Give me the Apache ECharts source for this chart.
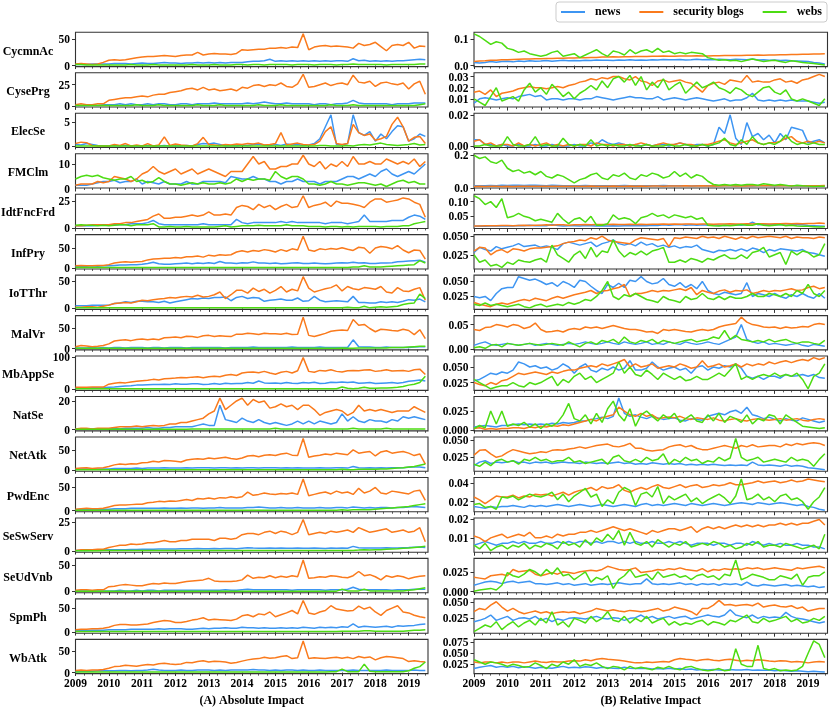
<!DOCTYPE html>
<html><head><meta charset="utf-8">
<script src="https://cdn.jsdelivr.net/npm/echarts@6/dist/echarts.min.js"></script>
<style>html,body{margin:0;padding:0;background:#fff}#wrap{position:relative;width:830px;height:709px}#c{width:830px;height:709px}
.yt{position:absolute;font:bold 11.5px "Liberation Serif","Times New Roman",serif;line-height:14px;color:#000;white-space:nowrap;text-align:right}</style>
</head><body><div id="wrap"><div id="c"></div></div>
<script>
// ---------- categories / labels ----------
const ROWS = ['CycmnAc','CysePrg','ElecSe','FMClm','IdtFncFrd','InfPry','IoTThr','MalVr','MbAppSe','NatSe','NetAtk','PwdEnc','SeSwServ','SeUdVnb','SpmPh','WbAtk'];
const SERIES_NAMES = ['news','security blogs','webs'];
const YEAR_TICKS = ['2009','2010','2011','2012','2013','2014','2015','2016','2017','2018','2019'];
const A_TICKS = [['0','50'],['0','25'],['0','5'],['0','10'],['0','25'],['0','50'],['0','50'],['0','50'],['0','100'],['0','20'],['0','50'],['0','50'],['0','25'],['0','50'],['0','50'],['0','50']];
const B_TICKS = [['0.0','0.1'],['0.01','0.02','0.03'],['0.00','0.02'],['0.0','0.2'],['0.05','0.10'],['0.025','0.050'],['0.025','0.050'],['0.00','0.05'],['0.025','0.050'],['0.000','0.025'],['0.025','0.050'],['0.02','0.04'],['0.01','0.02'],['0.000','0.025'],['0.025','0.050'],['0.025','0.050','0.075']];
const PANEL_TITLES = ['(A) Absolute Impact','(B) Relative Impact'];
// values every two months, Jan 2009 ... Jul 2019 (64 points)

// ---------- (A) absolute impact ----------
const A_CycmnAc_news = [2,2,2,3,3,3, 3,4,4,4,3,4, 5,4,4,5,6,5, 5,4,5,5,6,5, 6,5,6,5,6,6, 6,7,8,8,9,12, 8,9,8,9,8,9, 8,9,8,9,8,9, 9,8,13,9,10,8, 9,8,9,8,9,9, 10,11,12,11];
const A_CycmnAc_sec = [3,4,3,2,3,6, 10,11,10,11,13,15, 16,17,17,18,19,18, 17,19,20,20,25,20, 22,23,22,22,21,23, 30,29,30,31,31,33, 33,34,33,35,34,60, 30,35,37,38,36,37, 36,35,33,42,38,40, 44,36,28,38,40,38, 44,33,37,36];
const A_CycmnAc_web = [2,2,1,1,1,1, 1,1,1,1,2,1, 1,1,2,1,1,1, 1,1,1,2,1,1, 1,2,1,1,1,2, 2,1,2,2,1,2, 2,2,2,1,2,2, 2,1,2,2,2,1, 2,2,3,2,2,2, 2,2,1,2,2,2, 2,2,3,3];
const A_CysePrg_news = [1,1,1,2,1,2, 2,2,3,2,3,2, 2,3,2,3,3,2, 2,3,3,2,3,3, 3,4,3,3,3,3, 3,4,3,4,5,4, 3,3,4,3,3,3, 3,2,3,3,2,3, 3,4,7,4,3,3, 3,3,3,2,3,3, 3,4,4,4];
const A_CysePrg_sec = [2,3,2,2,3,3, 7,8,9,10,10,11, 12,11,13,14,14,16, 17,18,20,21,19,22, 19,20,18,19,20,18, 22,21,24,25,23,25, 24,27,23,22,26,37, 22,23,25,27,24,26, 27,25,36,28,27,29, 23,27,28,26,25,27, 20,26,29,14];
const A_CysePrg_web = [1,1,1,1,1,1, 1,1,1,1,1,2, 1,1,1,2,1,1, 1,1,1,1,2,1, 1,1,2,1,1,1, 1,1,1,2,1,1, 1,2,1,1,1,1, 1,1,1,1,2,1, 1,1,2,1,1,1, 1,1,1,1,1,1, 1,1,2,3];
const A_ElecSe_news = [0.3,0.2,0.5,0.3,0.1,0, 0,0.1,0,0.1,0,0, 0,0.1,0,0,0.1,0, 0,0,0.1,0,0.3,0.5, 0.4,0.6,0.3,0,0.1,0, 0.2,0.1,0.3,0.4,0.2,0.1, 0.3,0.1,0.4,0.2,0.3,0.1, 0.2,0.5,1.5,4,6.5,0.3, 0.2,0.5,6.5,2.8,2.2,3, 1,2.5,1.5,3,4.2,4, 1,1.5,2.5,2];
const A_ElecSe_sec = [0.5,0.8,0.7,0.1,0,0, 0,0.3,0.1,0.5,0,0.2, 0,0.5,0,0.2,1.9,0.1, 0.4,0.2,0.1,0,0.5,1.8, 0.3,0.2,0.1,0.3,0.2,0.4, 0.3,0.5,0.4,0.6,0.2,0.3, 0.5,2.8,0.2,0.4,0.6,0.3, 0.2,0.3,1,3,4,0.5, 0.3,0.5,4.5,2.8,2.2,2.5, 1.2,1.5,2,4.5,6,4, 1,1.8,2,0.5];
const A_ElecSe_web = [0,0,0,0,0,0, 0,0,0,0,0,0, 0,0,0,0,0,0, 0,0,0,0,0,0, 0,0,0,0,0,0, 0,0,0,0,0,0, 0,0,0,0,0,0, 0,0,0.1,0.1,0,0, 0,0.1,0,0.2,0.3,0.2, 0.4,0.6,0.3,0.2,0.1,0.2, 0.3,0.5,0.2,0.3];
const A_FMClm_news = [1.5,1.5,1.5,2,2.5,3, 3,3.5,2.5,3,3,4, 2,3,2.5,2,3,2, 2,2,3,2,2,3, 3,3,3,2.5,5,4.5, 4,4,5,4,4,3, 3,2,3,3,4,3, 3,3,2,3,3,3, 4,5,5,4,5,6, 5,7,8,6,5,6, 7,6,8,10];
const A_FMClm_sec = [1.5,2,2,2,3,2.5, 3,5,4.5,4,3,4, 6,7,9,7,6,7, 8,6,7,8,6,7, 8,7,6,5,7,7, 7,10,13,10,11,8, 8,9,9,10,10,13.5, 10,9,11,8,10,9, 11,9,13,10,10,11, 10,10,12,11,10,11, 10,12,9,11];
const A_FMClm_web = [4,5,5.5,5,5.5,4.5, 4,3.5,4,4,5,3, 3.5,2.5,3,4.5,3,2, 2,1.5,2,2.5,2,2.5, 2,2,2.5,2,2.5,4, 3,4,3.5,4,4,3.5, 7,5,4,5,5,4, 2,2,1.5,2,3,2, 2,1.5,2,2.5,2.5,2, 1.5,2,1,2,3,3.5, 2.5,3,2,2];
const A_IdtFncFrd_news = [2,2,2,2,2.5,3, 3,3,3,3,4,4, 4,5,7,4,3,3, 3,3,3,3,3,4, 3,3,3,3,3,8, 5,4,5,5,5,5, 5,6,5,6,5,5, 5,5,5,4,5,5, 5,4,5,6,12,6, 6,6,6,7,7,7, 10,12,11,8];
const A_IdtFncFrd_sec = [2,2,2.5,3,3,3, 3,4,4,5,5,6, 7,8,11,13,9,9, 10,10,11,12,11,12, 15,12,12,13,12,19, 21,20,17,22,19,21, 17,20,22,19,20,30, 19,21,22,24,20,25, 23,23,22,21,19,24, 27,27,24,25,26,28, 27,24,22,10];
const A_IdtFncFrd_web = [2.5,3,2.5,2.5,2,2.5, 2,2.5,3,3,2,3, 3,3,4,1,1,1.5, 1,1,1.5,1,1,1, 1,1,1.5,2,1,1.5, 2,2,2,2.5,2,2, 2,2,3,2,2,2, 1.5,1.5,1.5,1,1.5,1.5, 1,1.5,1,1.5,1.5,1.5, 1.5,1,1.5,1.5,1.5,2, 2,4,5,6];
const A_InfPry_news = [3,4,4,5,4,5, 5,6,7,7,8,8, 9,11,14,10,9,9, 10,11,12,10,12,11, 13,11,16,12,12,11, 13,12,15,12,12,11, 12,10,11,12,13,11, 11,12,11,10,11,12, 13,12,14,12,13,11, 11,12,12,13,15,16, 17,18,19,14];
const A_InfPry_sec = [5,6,5,5,6,6, 8,12,14,15,14,15, 16,20,22,23,24,24, 26,25,28,28,30,27, 32,30,33,32,33,40, 43,40,44,42,46,44, 40,46,42,48,45,80, 45,42,48,46,49,47, 51,47,44,52,50,37, 50,54,52,48,56,45, 38,45,44,22];
const A_InfPry_web = [1,1,1,1,1,1, 1,1,1,1,1,1, 1,1,1,1,1,1, 1,1,1,1,1,1, 1,1,1,1,1,1, 1,1,1,1,1,1, 1,1,1,1,1,1, 1,1,1,1,1,1, 1,1,2,2,5,2, 2,2,3,4,5,6, 7,8,18,12];
const A_IoTThr_news = [5,5,5,6,6,6, 6,9,10,12,11,13, 13,12,12,11,13,10, 12,14,16,18,17,19, 18,20,20,21,14,20, 22,18,20,19,13,15, 16,17,15,15,19,13, 14,22,15,12,13,14, 13,12,22,11,11,10, 10,12,11,12,11,13, 16,15,17,12];
const A_IoTThr_sec = [2,2,3,3,2,4, 6,9,10,11,10,12, 15,14,16,17,18,20, 19,21,22,21,24,21, 22,25,30,18,25,33, 33,28,37,31,35,28, 33,40,30,35,32,58, 37,30,33,36,38,43, 32,40,36,34,38,37, 35,40,30,28,38,32, 31,35,38,15];
const A_IoTThr_web = [1,1,1,1,1,1, 1,1,1,1,1,1, 1,1,1,1,1,1, 1,1,1,1,1,1, 1,1,1,1,1,1, 1,1,1,1,1,1, 1,1,1,1,1,1, 1,1,1,1,1,1, 1,2,1,1,4,1, 2,3,2,3,4,7, 9,10,26,18];
const A_MalVr_news = [2,2,2,3,2,3, 2,3,3,2,3,3, 3,2,3,3,2,3, 3,3,2,3,3,3, 3,3,3,2,3,3, 3,3,4,3,3,3, 3,3,3,4,3,3, 3,3,4,3,3,3, 3,3,22,5,4,4, 3,3,4,3,3,3, 3,4,5,5];
const A_MalVr_sec = [5,8,7,5,6,8, 12,19,21,22,20,23, 24,22,24,22,27,28, 29,27,31,30,28,32, 33,30,32,31,30,36, 36,38,37,35,38,37, 37,36,38,35,36,78, 33,30,34,38,43,45, 46,45,72,58,60,50, 42,48,47,45,44,48, 45,35,47,25];
const A_MalVr_web = [1,1,1,1,1,1, 1,1,1,1,1,1, 1,1,1,1,1,1, 1,1,1,1,1,1, 1,1,1,1,1,1, 1,1,1,1,1,1, 1,1,1,1,1,1, 1,1,1,1,1,1, 2,1,1,2,2,2, 2,2,2,3,3,3, 4,5,6,6];
const A_MbAppSe_news = [2,2,3,4,4,4, 5,6,8,9,10,12, 12,13,14,14,15,14, 16,15,15,16,16,14, 15,17,15,18,16,17, 17,20,18,25,19,18, 19,17,20,18,17,20, 19,21,17,18,21,20, 22,20,22,18,19,20, 17,18,19,20,18,20, 24,26,28,25];
const A_MbAppSe_sec = [5,5,5,6,6,6, 15,18,20,19,22,24, 26,27,30,28,32,33, 34,36,35,37,38,35, 38,40,38,43,45,42, 50,52,53,51,55,50, 46,52,55,50,57,98, 55,52,58,56,60,55, 53,57,58,57,59,60, 55,57,60,56,57,58, 55,60,62,45];
const A_MbAppSe_web = [0.5,0.5,0.5,0.5,0.5,0.5, 0.5,0.5,0.5,0.5,0.5,0.5, 0.5,0.5,0.5,0.5,0.5,0.5, 0.5,0.5,0.5,0.5,0.5,0.5, 0.5,0.5,0.5,0.5,0.5,0.5, 0.5,0.5,0.5,0.5,0.5,0.5, 0.5,0.5,0.5,1,0.5,0.5, 0.5,0.5,1,0.5,0.5,0.5, 6,2,1,2,5,2, 2,3,3,4,5,8, 12,15,20,40];
const A_NatSe_news = [0.5,0.5,0.5,0.5,0.5,0.5, 0.5,1,0.5,1,1,1, 1,1.5,1,1,1.5,1.5, 2,2,2,2,3,4, 3,3,17,7,6,5, 8,6,5,7,5,4, 5,4,3,4,6,4, 6,4,6,5,4,5, 11,6,9,6,5,7, 6,6,5,7,6,9, 8,9,8,7];
const A_NatSe_sec = [0.5,1,1,0.5,1,1, 1,1.5,2,2,2,2.5, 2,2.5,3,2.5,3,4, 4,5,5,6,7,8, 11,13,22,14,17,20, 22,17,21,19,20,15, 16,18,16,17,14,17, 17,14,10,12,13,14, 13,10,12,17,13,14, 13,14,13,12,13,13, 13,16,14,12];
const A_NatSe_web = [0.3,0.3,0.3,0.3,0.3,0.3, 0.3,0.3,0.5,0.3,0.3,0.3, 0.3,0.3,0.3,0.5,0.3,0.3, 0.3,0.3,0.3,0.5,0.5,0.5, 0.5,0.5,0.5,0.5,0.5,0.5, 0.5,0.5,0.5,0.5,0.5,0.5, 1,0.5,0.5,0.5,0.5,0.5, 0.5,0.5,0.5,0.5,0.5,0.5, 0.5,0.5,1,0.5,0.5,0.5, 0.5,0.5,1,0.5,0.5,0.5, 0.5,0.5,0.5,0.5];
const A_NetAtk_news = [2,3,3,3,3,3, 3,4,4,4,4,5, 4,5,5,5,6,5, 5,5,6,5,6,6, 6,5,6,6,5,6, 5,6,6,5,6,6, 6,5,6,5,6,5, 5,5,6,5,5,6, 6,5,9,6,5,6, 5,6,5,6,6,6, 7,8,8,6];
const A_NetAtk_sec = [4,5,6,4,5,6, 9,13,15,14,16,15, 18,19,22,20,24,23, 22,20,25,27,28,27, 30,28,30,32,29,27, 30,35,36,33,37,38, 36,40,42,37,36,78, 32,35,37,40,38,42, 40,38,50,42,44,46, 35,45,48,42,44,46, 42,36,40,15];
const A_NetAtk_web = [1,1,1,1,1,1, 1,1,1,1,1,1, 1,1,1,1,1,1, 1,1,1,1,1,1, 1,1,1,1,1,1, 1,1,1,1,1,1, 1,1,1,1,1,1, 1,1,1,1,1,1, 2,1,1,2,2,2, 2,3,3,4,5,6, 8,9,12,15];
const A_PwdEnc_news = [2,3,3,3,3,3, 3,4,4,4,5,5, 5,5,5,5,6,5, 5,6,5,6,6,5, 6,6,7,6,6,6, 6,7,7,8,7,6, 6,7,6,6,7,6, 6,6,7,6,6,7, 7,6,8,7,6,7, 6,7,7,6,7,7, 8,9,8,7];
const A_PwdEnc_sec = [3,4,5,4,4,5, 8,11,12,12,13,14, 14,17,18,20,19,21, 20,22,24,22,26,25, 27,25,28,27,30,28, 30,40,33,35,38,36, 35,37,36,38,35,68, 32,35,38,40,36,42, 38,40,35,48,38,42, 50,38,36,42,40,38, 36,42,44,22];
const A_PwdEnc_web = [1,1,1,1,1,1, 1,1,1,1,1,1, 1,1,1,1,1,1, 1,1,1,1,1,1, 1,1,1,1,1,1, 1,1,1,1,1,1, 1,1,1,1,1,1, 1,1,1,1,1,1, 2,1,2,2,2,2, 3,4,5,6,7,8, 9,11,13,15];
const A_SeSwServ_news = [0.5,0.5,0.5,0.7,0.8,0.8, 1,1,1.2,1.2,1.3,1.4, 1.5,1.5,1.6,1.8,1.7,1.8, 1.8,2,1.9,2,2.1,2, 2,2.2,2,2.1,2.2,2, 2.4,2.8,2.5,2.3,2.4,2.5, 2.4,2.5,2.3,2.4,2.6,2.4, 2.3,2.5,2.4,2.2,2.5,2.4, 2.5,2.4,4,2.8,2.6,2.5, 2.5,2.6,2.8,2.6,2.7,2.9, 3,3.2,3.4,3];
const A_SeSwServ_sec = [0.5,1,1,1,1.5,1.5, 3,4,5,5,6,5.5, 6,7,7,8,9,8, 8,9,9,10,10,10, 10,9,11,11,10,11, 14,15,15,14,16,17, 15,17,16,14,16,27, 14,15,16,15,17,16, 17,18,16,20,18,16, 17,18,19,16,17,18, 16,17,20,8];
const A_SeSwServ_web = [0.3,0.3,0.5,0.3,0.3,0.5, 0.5,0.5,0.5,0.5,0.5,0.5, 0.5,0.5,0.5,0.5,0.5,0.5, 0.5,0.5,0.5,0.5,0.5,0.5, 0.5,0.5,0.5,0.5,0.5,0.5, 0.5,0.5,0.5,0.5,0.5,0.5, 0.5,0.5,0.5,0.5,0.5,0.5, 0.5,0.5,0.5,0.5,0.5,0.5, 0.5,0.5,0.5,0.8,1.2,0.8, 1,1.2,1.5,1.8,2,2.3, 2.5,3,3.5,4];
const A_SeUdVnb_news = [1,1,1,1,1,1, 1,1,2,1,1,2, 1,2,2,1,2,2, 2,2,2,2,2,2, 2,2,2,3,2,2, 3,4,3,3,3,3, 3,3,3,2,3,3, 3,3,3,2,3,3, 3,4,8,4,3,3, 3,3,3,2,3,3, 3,4,4,4];
const A_SeUdVnb_sec = [2,3,3,2,3,3, 9,10,12,13,12,11, 11,13,15,14,16,15, 15,17,19,20,21,22, 25,20,19,19,19,20, 22,31,25,27,26,30, 26,29,27,30,28,60, 25,26,28,27,30,29, 27,26,30,38,30,32, 28,22,30,27,30,28, 24,27,29,30];
const A_SeUdVnb_web = [0.5,0.5,0.5,0.5,0.5,0.5, 0.5,0.5,0.5,0.5,0.5,0.5, 0.5,0.5,0.5,0.5,0.5,0.5, 0.5,0.5,0.5,0.5,0.5,0.5, 0.5,0.5,0.5,0.5,0.5,0.5, 0.5,0.5,0.5,0.5,0.5,0.5, 0.5,0.5,0.5,0.5,0.5,0.5, 0.5,0.5,0.5,0.5,0.5,0.5, 4,1,1,1,4,1, 1,1,1,1,1,1, 2,3,5,7];
const A_SpmPh_news = [3,3,3,4,4,4, 5,5,5,5,6,6, 6,6,6,7,6,7, 7,7,6,6,7,8, 7,8,8,9,8,8, 10,9,9,8,9,8, 8,9,8,9,8,10, 9,8,10,9,10,9, 11,10,17,10,12,11, 10,11,12,10,13,12, 13,14,16,17];
const A_SpmPh_sec = [5,6,6,7,7,8, 10,14,16,16,15,15, 16,17,20,22,24,23, 20,20,22,25,27,30, 25,27,26,25,24,27, 34,36,32,38,36,42, 32,36,40,45,38,66, 40,37,42,45,55,48, 46,44,45,54,48,52, 42,35,45,50,55,42, 40,35,32,30];
const A_SpmPh_web = [1,1,1,1,1,1, 1,1,1,1,1,1, 1,1,1,1,1,1, 1,1,1,1,1,1, 1,1,1,1,1,1, 1,1,1,1,1,1, 1,1,1,1,1,1, 1,1,1,1,1,1, 2,2,2,2,3,3, 2,2,2,2,2,2, 3,4,4,5];
const A_WbAtk_news = [2,3,3,3,4,4, 4,4,5,5,4,5, 5,6,8,6,5,5, 5,6,5,5,6,6, 6,5,6,5,6,6, 6,6,7,6,6,5, 6,5,6,6,5,6, 5,5,6,5,5,5, 5,5,6,5,5,5, 5,5,6,5,5,5, 5,6,5,5];
const A_WbAtk_sec = [5,6,5,6,6,7, 10,14,15,17,16,15, 17,19,18,21,22,20, 19,20,24,23,26,28, 25,27,26,25,22,24, 27,30,32,33,36,34, 35,38,40,33,35,75, 33,35,34,33,35,36, 34,36,33,38,35,37, 30,35,38,37,35,33, 26,28,26,25];
const A_WbAtk_web = [1,1,1,1,1,1, 1,1,1,1,1,1, 1,1,1,1,1,1, 1,1,1,1,1,1, 1,1,1,1,1,1, 1,1,1,1,1,1, 1,1,1,1,1,1, 1,1,1,1,2,2, 8,2,2,2,20,3, 2,2,2,2,2,2, 4,10,14,25];

// ---------- (B) relative impact ----------
const B_CycmnAc_news = [0.012,0.01,0.012,0.015,0.013,0.015, 0.016,0.014,0.017,0.015,0.018,0.016, 0.017,0.019,0.016,0.018,0.02,0.018, 0.019,0.018,0.02,0.019,0.021,0.02, 0.02,0.019,0.021,0.02,0.022,0.02, 0.021,0.02,0.022,0.021,0.023,0.022, 0.022,0.023,0.021,0.022,0.024,0.022, 0.023,0.022,0.024,0.023,0.022,0.024, 0.023,0.022,0.025,0.021,0.022,0.02, 0.021,0.019,0.02,0.018,0.017,0.016, 0.015,0.012,0.01,0.006];
const B_CycmnAc_sec = [0.015,0.017,0.018,0.02,0.02,0.022, 0.022,0.023,0.024,0.025,0.025,0.026, 0.026,0.027,0.027,0.028,0.028,0.029, 0.029,0.03,0.03,0.031,0.031,0.032, 0.032,0.033,0.032,0.033,0.033,0.034, 0.034,0.034,0.035,0.035,0.036,0.035, 0.035,0.036,0.036,0.036,0.037,0.036, 0.036,0.037,0.037,0.038,0.038,0.038, 0.038,0.039,0.039,0.04,0.039,0.04, 0.04,0.041,0.041,0.042,0.042,0.043, 0.043,0.044,0.044,0.045];
const B_CycmnAc_web = [0.12,0.11,0.095,0.08,0.09,0.085, 0.065,0.06,0.05,0.055,0.045,0.04, 0.035,0.04,0.05,0.055,0.035,0.04, 0.045,0.03,0.04,0.05,0.06,0.045, 0.035,0.055,0.05,0.04,0.06,0.045, 0.055,0.06,0.05,0.065,0.05,0.055, 0.045,0.05,0.045,0.05,0.048,0.045, 0.03,0.025,0.02,0.022,0.018,0.02, 0.015,0.02,0.025,0.02,0.015,0.018, 0.02,0.015,0.012,0.018,0.015,0.012, 0.01,0.008,0.005,0.002];
const B_CysePrg_news = [0.006,0.01,0.011,0.01,0.009,0.01, 0.011,0.01,0.012,0.013,0.014,0.012, 0.013,0.009,0.01,0.01,0.009,0.01, 0.01,0.009,0.01,0.01,0.012,0.011, 0.01,0.009,0.01,0.011,0.012,0.011, 0.011,0.01,0.01,0.012,0.009,0.01, 0.011,0.01,0.009,0.01,0.011,0.01, 0.009,0.008,0.009,0.01,0.008,0.009, 0.009,0.011,0.015,0.009,0.008,0.009, 0.008,0.009,0.008,0.009,0.008,0.008, 0.008,0.007,0.006,0.007];
const B_CysePrg_sec = [0.016,0.017,0.014,0.018,0.012,0.015, 0.016,0.017,0.019,0.02,0.021,0.02, 0.02,0.019,0.02,0.021,0.02,0.022, 0.023,0.025,0.026,0.028,0.027,0.029, 0.028,0.03,0.03,0.028,0.027,0.03, 0.026,0.025,0.022,0.026,0.027,0.025, 0.026,0.027,0.025,0.024,0.02,0.016, 0.022,0.024,0.025,0.023,0.027,0.026, 0.025,0.031,0.025,0.026,0.025,0.025, 0.027,0.028,0.025,0.026,0.024,0.027, 0.028,0.03,0.032,0.03];
const B_CysePrg_web = [0.01,0.007,0.004,0.012,0.02,0.008, 0.01,0.012,0.008,0.018,0.024,0.016, 0.02,0.014,0.023,0.018,0.012,0.016, 0.01,0.015,0.018,0.022,0.018,0.026, 0.02,0.028,0.03,0.025,0.031,0.022, 0.03,0.018,0.025,0.02,0.028,0.018, 0.022,0.025,0.015,0.02,0.025,0.02, 0.022,0.025,0.02,0.018,0.015,0.02, 0.018,0.014,0.012,0.016,0.02,0.021, 0.016,0.014,0.018,0.01,0.008,0.01, 0.008,0.006,0.004,0.01];
const B_ElecSe_news = [0.004,0.004,0.001,0.001,0,0.001, 0,0,0.001,0,0,0.001, 0,0,0.001,0,0,0, 0.001,0,0,0.002,0.001,0.004, 0.002,0.001,0.002,0.001,0,0.001, 0,0.001,0,0.001,0.001,0, 0.001,0.002,0.001,0,0.001,0.001, 0,0.001,0.012,0.008,0.02,0.005, 0.001,0.015,0.006,0.008,0.004,0.007, 0.002,0.008,0.004,0.012,0.011,0.01, 0.002,0.003,0.004,0.002];
const B_ElecSe_sec = [0.003,0.004,0.001,0.002,0,0.001, 0.001,0,0.002,0,0.001,0, 0.001,0.002,0,0.001,0,0.001, 0,0.001,0.001,0,0.002,0.001, 0.001,0,0.001,0.001,0,0.001, 0.002,0.001,0,0.001,0.002,0.001, 0.001,0.002,0.001,0.001,0,0.001, 0.001,0.002,0.003,0.004,0.002,0.001, 0.002,0.003,0.004,0.002,0.001,0.002, 0.002,0.003,0.005,0.006,0.003,0.002, 0.003,0.002,0.003,0.002];
const B_ElecSe_web = [0,0,0.001,0,0,0, 0.006,0.001,0,0,0.001,0.006, 0,0.001,0,0,0.005,0.001, 0,0.001,0,0.004,0,0.001, 0,0.001,0,0,0.001,0, 0,0.001,0,0,0,0.001, 0,0,0.001,0,0,0.001, 0,0.001,0.002,0.005,0.001,0, 0.004,0.001,0.006,0.002,0.001,0.002, 0.001,0.003,0.007,0.003,0.001,0.002, 0.001,0.002,0.001,0.001];
const B_FMClm_news = [0.012,0.013,0.012,0.014,0.013,0.015, 0.014,0.016,0.015,0.014,0.016,0.015, 0.014,0.013,0.015,0.014,0.013,0.012, 0.013,0.012,0.014,0.013,0.012,0.013, 0.012,0.013,0.012,0.014,0.013,0.012, 0.013,0.012,0.013,0.012,0.014,0.013, 0.012,0.013,0.012,0.011,0.013,0.012, 0.012,0.011,0.012,0.013,0.012,0.011, 0.012,0.013,0.011,0.012,0.013,0.012, 0.011,0.012,0.013,0.012,0.011,0.012, 0.011,0.012,0.01,0.011];
const B_FMClm_sec = [0.008,0.009,0.008,0.009,0.009,0.008, 0.009,0.008,0.009,0.01,0.009,0.009, 0.01,0.009,0.01,0.009,0.01,0.01, 0.009,0.01,0.01,0.011,0.01,0.01, 0.01,0.011,0.01,0.01,0.011,0.01, 0.011,0.01,0.011,0.011,0.01,0.011, 0.011,0.011,0.012,0.011,0.011,0.012, 0.011,0.012,0.011,0.012,0.012,0.011, 0.012,0.011,0.012,0.012,0.013,0.012, 0.012,0.013,0.012,0.013,0.012,0.013, 0.013,0.012,0.013,0.014];
const B_FMClm_web = [0.2,0.18,0.19,0.16,0.15,0.17, 0.12,0.1,0.11,0.09,0.1,0.08, 0.1,0.07,0.06,0.08,0.07,0.05, 0.03,0.05,0.06,0.08,0.09,0.06, 0.05,0.08,0.07,0.09,0.06,0.05, 0.08,0.07,0.09,0.08,0.06,0.07, 0.1,0.07,0.09,0.06,0.08,0.07, 0.04,0.02,0.015,0.02,0.015,0.02, 0.015,0.02,0.02,0.015,0.025,0.02, 0.015,0.02,0.015,0.01,0.015,0.012, 0.01,0.008,0.01,0.01];
const B_IdtFncFrd_news = [0.016,0.017,0.016,0.017,0.018,0.017, 0.018,0.017,0.019,0.018,0.02,0.018, 0.019,0.018,0.022,0.019,0.017,0.018, 0.018,0.017,0.019,0.018,0.017,0.018, 0.017,0.018,0.017,0.018,0.019,0.018, 0.019,0.018,0.02,0.019,0.021,0.02, 0.021,0.022,0.02,0.021,0.02,0.021, 0.02,0.021,0.02,0.019,0.02,0.021, 0.02,0.022,0.03,0.021,0.022,0.022, 0.021,0.022,0.02,0.021,0.022,0.021, 0.019,0.018,0.017,0.016];
const B_IdtFncFrd_sec = [0.017,0.017,0.018,0.018,0.018,0.019, 0.019,0.018,0.019,0.02,0.019,0.02, 0.02,0.021,0.02,0.021,0.021,0.02, 0.021,0.021,0.022,0.021,0.022,0.022, 0.022,0.023,0.022,0.022,0.023,0.022, 0.023,0.022,0.023,0.023,0.024,0.023, 0.024,0.023,0.024,0.024,0.023,0.024, 0.024,0.023,0.024,0.024,0.025,0.024, 0.024,0.025,0.024,0.025,0.025,0.024, 0.025,0.025,0.026,0.025,0.026,0.025, 0.026,0.026,0.027,0.026];
const B_IdtFncFrd_web = [0.12,0.11,0.09,0.1,0.08,0.11, 0.045,0.05,0.06,0.05,0.045,0.035, 0.04,0.035,0.03,0.06,0.04,0.025, 0.04,0.045,0.03,0.05,0.02,0.02, 0.025,0.055,0.04,0.045,0.04,0.025, 0.045,0.05,0.06,0.05,0.055,0.045, 0.055,0.05,0.045,0.05,0.04,0.045, 0.02,0.018,0.017,0.02,0.018,0.02, 0.022,0.02,0.02,0.025,0.02,0.018, 0.02,0.022,0.018,0.02,0.017,0.016, 0.016,0.015,0.014,0.015];
const B_InfPry_news = [0.028,0.035,0.032,0.03,0.036,0.033, 0.035,0.037,0.04,0.036,0.037,0.038, 0.035,0.037,0.035,0.032,0.04,0.042, 0.04,0.038,0.04,0.042,0.036,0.04, 0.042,0.045,0.04,0.038,0.04,0.037, 0.042,0.038,0.04,0.036,0.038,0.035, 0.037,0.034,0.036,0.035,0.038,0.032, 0.03,0.028,0.031,0.03,0.032,0.03, 0.033,0.03,0.034,0.032,0.028,0.032, 0.03,0.033,0.032,0.031,0.03,0.032, 0.028,0.027,0.025,0.023];
const B_InfPry_sec = [0.03,0.035,0.034,0.025,0.03,0.032, 0.028,0.033,0.032,0.03,0.033,0.034, 0.034,0.035,0.036,0.037,0.04,0.042, 0.043,0.045,0.044,0.048,0.046,0.05, 0.045,0.043,0.042,0.041,0.04,0.045, 0.048,0.047,0.046,0.045,0.047,0.036, 0.048,0.047,0.049,0.048,0.047,0.05, 0.048,0.049,0.047,0.05,0.048,0.046, 0.049,0.047,0.05,0.048,0.049,0.05, 0.049,0.048,0.05,0.047,0.049,0.048, 0.048,0.047,0.049,0.048];
const B_InfPry_web = [0.025,0.015,0.018,0.01,0.012,0.008, 0.015,0.012,0.018,0.016,0.015,0.018, 0.02,0.015,0.038,0.025,0.02,0.015, 0.025,0.03,0.02,0.035,0.022,0.03, 0.028,0.045,0.03,0.022,0.028,0.025, 0.03,0.025,0.03,0.032,0.035,0.015, 0.015,0.018,0.015,0.02,0.018,0.015, 0.02,0.018,0.022,0.025,0.02,0.02, 0.025,0.02,0.028,0.03,0.035,0.022, 0.025,0.028,0.012,0.03,0.025,0.03, 0.028,0.022,0.025,0.04];
const B_IoTThr_news = [0.025,0.023,0.025,0.018,0.03,0.038, 0.04,0.04,0.058,0.055,0.052,0.054, 0.05,0.045,0.048,0.042,0.05,0.046, 0.04,0.052,0.05,0.042,0.035,0.03, 0.045,0.04,0.047,0.04,0.052,0.05, 0.058,0.05,0.046,0.048,0.055,0.045, 0.042,0.048,0.04,0.045,0.038,0.05, 0.035,0.03,0.028,0.032,0.03,0.028, 0.03,0.048,0.025,0.03,0.028,0.025, 0.03,0.025,0.022,0.028,0.025,0.03, 0.025,0.022,0.03,0.022];
const B_IoTThr_sec = [0.015,0.012,0.01,0.008,0.012,0.014, 0.012,0.015,0.018,0.02,0.018,0.022, 0.02,0.018,0.022,0.025,0.022,0.025, 0.028,0.03,0.032,0.035,0.03,0.034, 0.035,0.038,0.04,0.045,0.025,0.03, 0.03,0.032,0.035,0.033,0.035,0.034, 0.036,0.038,0.035,0.04,0.028,0.035, 0.032,0.03,0.034,0.036,0.032,0.035, 0.034,0.036,0.03,0.032,0.035,0.033, 0.035,0.034,0.036,0.038,0.035,0.036, 0.04,0.042,0.038,0.04];
const B_IoTThr_web = [0.012,0.01,0.014,0.01,0.012,0.01, 0.008,0.01,0.012,0.008,0.006,0.01, 0.012,0.008,0.01,0.012,0.01,0.015, 0.012,0.015,0.02,0.018,0.025,0.035, 0.05,0.025,0.02,0.028,0.025,0.03, 0.025,0.02,0.018,0.015,0.025,0.02, 0.018,0.015,0.025,0.02,0.022,0.03, 0.022,0.02,0.025,0.02,0.025,0.022, 0.022,0.025,0.03,0.025,0.025,0.03, 0.028,0.025,0.03,0.025,0.035,0.03, 0.045,0.03,0.025,0.035];
const B_MalVr_news = [0.008,0.012,0.015,0.01,0.008,0.01, 0.012,0.01,0.008,0.01,0.012,0.008, 0.01,0.012,0.01,0.008,0.01,0.012, 0.01,0.012,0.015,0.012,0.01,0.012, 0.015,0.012,0.01,0.015,0.012,0.01, 0.012,0.015,0.01,0.012,0.01,0.015, 0.012,0.01,0.015,0.012,0.01,0.012, 0.015,0.012,0.01,0.015,0.02,0.025, 0.05,0.02,0.015,0.012,0.015,0.01, 0.012,0.01,0.008,0.01,0.012,0.008, 0.006,0.01,0.008,0.006];
const B_MalVr_sec = [0.04,0.038,0.044,0.045,0.05,0.048, 0.045,0.05,0.048,0.042,0.045,0.053, 0.04,0.035,0.036,0.038,0.035,0.04, 0.042,0.04,0.045,0.043,0.045,0.042, 0.045,0.048,0.045,0.042,0.04,0.04, 0.038,0.035,0.036,0.032,0.04,0.038, 0.04,0.038,0.036,0.035,0.038,0.04, 0.038,0.04,0.045,0.048,0.05,0.052, 0.065,0.055,0.05,0.048,0.045,0.044, 0.045,0.042,0.045,0.043,0.044,0.046, 0.045,0.05,0.052,0.05];
const B_MalVr_web = [0.003,0.005,0.002,0.008,0.01,0.005, 0.012,0.01,0.008,0.01,0.012,0.01, 0.008,0.01,0.012,0.01,0.008,0.015, 0.01,0.005,0.012,0.015,0.01,0.018, 0.015,0.02,0.012,0.025,0.015,0.012, 0.018,0.015,0.02,0.012,0.018,0.015, 0.012,0.015,0.018,0.02,0.015,0.018, 0.02,0.025,0.022,0.038,0.02,0.028, 0.02,0.018,0.015,0.018,0.015,0.02, 0.015,0.018,0.02,0.015,0.012,0.015, 0.015,0.012,0.01,0.018];
const B_MbAppSe_news = [0.028,0.03,0.035,0.04,0.038,0.042, 0.04,0.045,0.058,0.055,0.05,0.052, 0.048,0.05,0.045,0.048,0.055,0.05, 0.04,0.05,0.055,0.045,0.042,0.048, 0.045,0.05,0.045,0.048,0.06,0.045, 0.045,0.048,0.058,0.05,0.045,0.048, 0.05,0.045,0.048,0.04,0.05,0.052, 0.045,0.05,0.048,0.052,0.05,0.055, 0.048,0.035,0.032,0.035,0.03,0.035, 0.035,0.032,0.038,0.035,0.036,0.038, 0.035,0.038,0.033,0.032];
const B_MbAppSe_sec = [0.025,0.022,0.02,0.025,0.022,0.028, 0.03,0.035,0.04,0.038,0.04,0.042, 0.04,0.038,0.042,0.04,0.043,0.045, 0.045,0.048,0.05,0.052,0.05,0.055, 0.052,0.055,0.058,0.062,0.05,0.055, 0.05,0.052,0.055,0.048,0.05,0.052, 0.05,0.055,0.052,0.048,0.05,0.06, 0.05,0.052,0.055,0.05,0.052,0.055, 0.05,0.055,0.052,0.055,0.053,0.058, 0.055,0.058,0.06,0.057,0.06,0.062, 0.06,0.065,0.062,0.065];
const B_MbAppSe_web = [0.03,0.025,0.02,0.015,0.018,0.02, 0.02,0.025,0.02,0.018,0.025,0.022, 0.025,0.03,0.035,0.02,0.03,0.025, 0.035,0.04,0.03,0.035,0.025,0.03, 0.035,0.04,0.058,0.04,0.05,0.038, 0.035,0.045,0.038,0.03,0.04,0.035, 0.03,0.035,0.028,0.03,0.035,0.03, 0.03,0.035,0.04,0.035,0.045,0.055, 0.03,0.035,0.03,0.035,0.038,0.035, 0.04,0.035,0.038,0.035,0.04,0.03, 0.015,0.035,0.04,0.055];
const B_NatSe_news = [0.004,0.005,0.006,0.005,0.004,0.006, 0.006,0.007,0.008,0.007,0.008,0.007, 0.008,0.007,0.009,0.008,0.01,0.009, 0.01,0.012,0.012,0.014,0.015,0.017, 0.015,0.018,0.042,0.022,0.018,0.02, 0.017,0.015,0.018,0.016,0.014,0.015, 0.016,0.013,0.012,0.015,0.014,0.013, 0.018,0.02,0.022,0.02,0.024,0.026, 0.022,0.03,0.02,0.018,0.015,0.017, 0.014,0.012,0.015,0.013,0.012,0.016, 0.014,0.012,0.01,0.012];
const B_NatSe_sec = [0.002,0.003,0.001,0.002,0.001,0.002, 0.002,0.003,0.003,0.002,0.004,0.003, 0.005,0.004,0.006,0.005,0.007,0.006, 0.008,0.01,0.012,0.014,0.012,0.016, 0.018,0.02,0.03,0.025,0.02,0.018, 0.022,0.018,0.02,0.015,0.016,0.017, 0.016,0.018,0.015,0.014,0.016,0.015, 0.014,0.016,0.013,0.012,0.014,0.015, 0.013,0.012,0.014,0.015,0.014,0.013, 0.014,0.015,0.013,0.014,0.015,0.013, 0.012,0.014,0.015,0.014];
const B_NatSe_web = [0.002,0.006,0.003,0.025,0.008,0.025, 0.005,0.008,0.006,0.01,0.004,0.008, 0.002,0.008,0.005,0.01,0.02,0.035, 0.015,0.012,0.02,0.008,0.022,0.01, 0.028,0.038,0.02,0.012,0.028,0.005, 0.02,0.025,0.018,0.012,0.02,0.015, 0.022,0.01,0.015,0.02,0.012,0.01, 0.02,0.012,0.022,0.01,0.018,0.015, 0.01,0.02,0.008,0.015,0.012,0.02, 0.018,0.008,0.02,0.015,0.01,0.005, 0.004,0.003,0.002,0.003];
const B_NetAtk_news = [0.013,0.018,0.02,0.016,0.018,0.017, 0.018,0.02,0.017,0.018,0.016,0.018, 0.017,0.018,0.016,0.017,0.018,0.017, 0.017,0.016,0.018,0.017,0.016,0.017, 0.016,0.017,0.018,0.016,0.017,0.015, 0.016,0.015,0.017,0.016,0.015,0.016, 0.015,0.016,0.014,0.015,0.014,0.015, 0.014,0.015,0.014,0.013,0.014,0.013, 0.014,0.013,0.018,0.014,0.013,0.014, 0.013,0.012,0.014,0.012,0.013,0.012, 0.01,0.009,0.008,0.007];
const B_NetAtk_sec = [0.028,0.035,0.036,0.03,0.025,0.027, 0.032,0.036,0.034,0.032,0.03,0.031, 0.033,0.032,0.035,0.036,0.035,0.037, 0.038,0.04,0.038,0.04,0.042,0.043, 0.044,0.041,0.04,0.042,0.045,0.038, 0.038,0.035,0.034,0.035,0.036,0.04, 0.042,0.043,0.04,0.042,0.038,0.036, 0.036,0.038,0.04,0.042,0.04,0.038, 0.042,0.04,0.043,0.04,0.041,0.042, 0.042,0.04,0.044,0.042,0.045,0.043, 0.045,0.046,0.045,0.042];
const B_NetAtk_web = [0.015,0.012,0.018,0.013,0.02,0.022, 0.018,0.02,0.015,0.022,0.02,0.025, 0.02,0.022,0.018,0.02,0.02,0.025, 0.018,0.02,0.016,0.018,0.02,0.022, 0.015,0.025,0.028,0.02,0.018,0.022, 0.018,0.025,0.02,0.022,0.03,0.015, 0.022,0.018,0.025,0.02,0.022,0.016, 0.02,0.018,0.025,0.02,0.024,0.052, 0.025,0.02,0.022,0.025,0.018,0.02, 0.022,0.02,0.018,0.025,0.02,0.022, 0.02,0.012,0.022,0.03];
const B_PwdEnc_news = [0.015,0.014,0.013,0.015,0.014,0.015, 0.015,0.016,0.015,0.014,0.016,0.015, 0.016,0.015,0.016,0.017,0.016,0.015, 0.016,0.017,0.016,0.015,0.016,0.017, 0.016,0.015,0.016,0.017,0.016,0.015, 0.017,0.018,0.016,0.017,0.016,0.017, 0.018,0.017,0.016,0.018,0.017,0.016, 0.017,0.018,0.017,0.016,0.017,0.018, 0.019,0.018,0.017,0.019,0.018,0.017, 0.018,0.019,0.018,0.017,0.016,0.017, 0.015,0.014,0.012,0.011];
const B_PwdEnc_sec = [0.025,0.022,0.018,0.022,0.026,0.025, 0.025,0.027,0.024,0.026,0.025,0.028, 0.027,0.028,0.026,0.028,0.03,0.027, 0.03,0.032,0.033,0.035,0.032,0.036, 0.034,0.035,0.038,0.032,0.03,0.033, 0.035,0.033,0.036,0.038,0.035,0.034, 0.036,0.038,0.035,0.037,0.038,0.035, 0.036,0.038,0.037,0.038,0.04,0.038, 0.038,0.039,0.04,0.042,0.04,0.041, 0.042,0.04,0.041,0.043,0.041,0.042, 0.044,0.043,0.042,0.041];
const B_PwdEnc_web = [0.017,0.018,0.014,0.015,0.012,0.025, 0.024,0.026,0.022,0.025,0.028,0.026, 0.025,0.027,0.03,0.022,0.028,0.02, 0.026,0.03,0.034,0.025,0.028,0.015, 0.022,0.018,0.03,0.035,0.032,0.016, 0.028,0.03,0.025,0.036,0.018,0.026, 0.022,0.025,0.028,0.02,0.024,0.018, 0.022,0.025,0.028,0.024,0.018,0.026, 0.044,0.022,0.024,0.028,0.022,0.025, 0.02,0.026,0.028,0.022,0.024,0.02, 0.012,0.02,0.025,0.035];
const B_SeSwServ_news = [0.006,0.007,0.008,0.007,0.006,0.007, 0.007,0.008,0.007,0.008,0.007,0.007, 0.008,0.007,0.007,0.008,0.007,0.008, 0.007,0.008,0.008,0.007,0.008,0.007, 0.008,0.008,0.007,0.008,0.007,0.008, 0.007,0.007,0.008,0.007,0.007,0.008, 0.007,0.008,0.007,0.006,0.007,0.007, 0.007,0.006,0.007,0.007,0.006,0.007, 0.007,0.006,0.008,0.007,0.006,0.007, 0.006,0.007,0.006,0.006,0.007,0.006, 0.006,0.005,0.005,0.004];
const B_SeSwServ_sec = [0.011,0.01,0.008,0.01,0.011,0.012, 0.01,0.011,0.012,0.011,0.013,0.01, 0.01,0.011,0.01,0.012,0.011,0.012, 0.012,0.013,0.013,0.014,0.013,0.014, 0.015,0.016,0.015,0.014,0.015,0.014, 0.013,0.012,0.014,0.013,0.014,0.015, 0.015,0.014,0.015,0.016,0.013,0.015, 0.016,0.015,0.016,0.015,0.016,0.017, 0.016,0.017,0.016,0.017,0.016,0.017, 0.017,0.018,0.017,0.018,0.017,0.018, 0.018,0.019,0.02,0.017];
const B_SeSwServ_web = [0.006,0.004,0.007,0.003,0.005,0.006, 0.004,0.006,0.005,0.007,0.004,0.006, 0.005,0.007,0.006,0.004,0.008,0.006, 0.007,0.005,0.009,0.006,0.01,0.008, 0.012,0.009,0.014,0.006,0.013,0.007, 0.006,0.008,0.005,0.009,0.007,0.005, 0.007,0.006,0.008,0.005,0.006,0.007, 0.006,0.008,0.007,0.005,0.006,0.004, 0.005,0.007,0.006,0.008,0.005,0.006, 0.006,0.005,0.007,0.006,0.005,0.004, 0.005,0.006,0.004,0.012];
const B_SeUdVnb_news = [0.008,0.01,0.012,0.013,0.012,0.01, 0.012,0.013,0.011,0.012,0.013,0.01, 0.01,0.009,0.01,0.011,0.009,0.01, 0.008,0.009,0.01,0.008,0.009,0.01, 0.009,0.01,0.011,0.01,0.009,0.01, 0.01,0.016,0.01,0.009,0.01,0.009, 0.01,0.011,0.009,0.01,0.008,0.01, 0.009,0.01,0.008,0.01,0.009,0.01, 0.008,0.012,0.008,0.007,0.009,0.008, 0.007,0.008,0.009,0.007,0.008,0.007, 0.006,0.007,0.005,0.006];
const B_SeUdVnb_sec = [0.018,0.017,0.016,0.02,0.021,0.022, 0.02,0.028,0.025,0.026,0.027,0.022, 0.02,0.022,0.024,0.022,0.025,0.024, 0.023,0.025,0.026,0.027,0.026,0.028, 0.032,0.03,0.028,0.027,0.028,0.03, 0.024,0.025,0.026,0.028,0.027,0.029, 0.028,0.03,0.028,0.027,0.026,0.029, 0.025,0.028,0.027,0.029,0.028,0.029, 0.028,0.03,0.029,0.03,0.028,0.029, 0.03,0.029,0.028,0.027,0.03,0.029, 0.03,0.031,0.032,0.03];
const B_SeUdVnb_web = [0.0005,0.002,0.003,0.004,0.002,0.008, 0.024,0.02,0.018,0.022,0.028,0.025, 0.02,0.028,0.022,0.03,0.02,0.022, 0.015,0.02,0.025,0.012,0.018,0.015, 0.02,0.004,0.015,0.02,0.028,0.018, 0.02,0.022,0.015,0.025,0.018,0.02, 0.022,0.018,0.02,0.015,0.02,0.022, 0.018,0.02,0.015,0.022,0.02,0.04, 0.015,0.018,0.022,0.02,0.018,0.015, 0.015,0.02,0.018,0.016,0.022,0.008, 0.018,0.02,0.02,0.025];
const B_SpmPh_news = [0.02,0.022,0.025,0.03,0.022,0.025, 0.028,0.022,0.025,0.026,0.024,0.028, 0.022,0.025,0.02,0.024,0.022,0.025, 0.026,0.025,0.024,0.026,0.028,0.025, 0.024,0.026,0.025,0.022,0.025,0.026, 0.03,0.025,0.028,0.024,0.026,0.028, 0.025,0.027,0.028,0.024,0.026,0.028, 0.03,0.028,0.027,0.03,0.038,0.03, 0.028,0.026,0.03,0.025,0.028,0.026, 0.027,0.026,0.034,0.028,0.025,0.024, 0.022,0.02,0.018,0.02];
const B_SpmPh_sec = [0.035,0.04,0.038,0.045,0.05,0.042, 0.036,0.04,0.035,0.032,0.034,0.036, 0.033,0.035,0.032,0.034,0.035,0.034, 0.035,0.032,0.034,0.036,0.04,0.038, 0.036,0.038,0.036,0.035,0.037,0.036, 0.035,0.036,0.038,0.04,0.036,0.038, 0.042,0.04,0.038,0.035,0.03,0.04, 0.04,0.045,0.052,0.045,0.046,0.044, 0.045,0.046,0.044,0.048,0.042,0.044, 0.045,0.043,0.042,0.044,0.04,0.042, 0.036,0.038,0.04,0.04];
const B_SpmPh_web = [0.005,0.01,0.015,0.012,0.02,0.008, 0.015,0.02,0.012,0.018,0.022,0.015, 0.025,0.018,0.035,0.015,0.02,0.012, 0.025,0.022,0.018,0.028,0.02,0.025, 0.035,0.022,0.02,0.028,0.018,0.025, 0.02,0.028,0.018,0.022,0.025,0.015, 0.02,0.015,0.018,0.016,0.02,0.022, 0.015,0.02,0.018,0.015,0.022,0.02, 0.025,0.03,0.02,0.018,0.025,0.02, 0.022,0.025,0.028,0.02,0.024,0.018, 0.02,0.025,0.022,0.028];
const B_WbAtk_news = [0.015,0.018,0.02,0.022,0.018,0.02, 0.018,0.02,0.017,0.019,0.018,0.016, 0.018,0.017,0.016,0.018,0.02,0.017, 0.018,0.017,0.019,0.018,0.016,0.018, 0.017,0.016,0.015,0.018,0.016,0.015, 0.015,0.016,0.014,0.015,0.014,0.016, 0.014,0.015,0.013,0.014,0.012,0.013, 0.012,0.013,0.012,0.011,0.013,0.012, 0.012,0.013,0.011,0.012,0.011,0.012, 0.01,0.011,0.01,0.009,0.01,0.009, 0.008,0.009,0.008,0.007];
const B_WbAtk_sec = [0.03,0.028,0.03,0.03,0.028,0.03, 0.028,0.03,0.03,0.028,0.03,0.032, 0.03,0.029,0.031,0.03,0.03,0.032, 0.033,0.032,0.035,0.033,0.036,0.038, 0.036,0.035,0.034,0.032,0.03,0.028, 0.028,0.03,0.029,0.03,0.031,0.03, 0.035,0.038,0.036,0.035,0.033,0.035, 0.036,0.034,0.033,0.035,0.036,0.034, 0.032,0.034,0.033,0.035,0.034,0.032, 0.031,0.033,0.032,0.03,0.031,0.03, 0.028,0.03,0.031,0.03];
const B_WbAtk_web = [0.035,0.03,0.025,0.03,0.028,0.025, 0.02,0.025,0.022,0.018,0.02,0.028, 0.022,0.015,0.025,0.02,0.03,0.025, 0.035,0.02,0.025,0.022,0.028,0.02, 0.015,0.02,0.018,0.012,0.02,0.015, 0.018,0.015,0.012,0.018,0.015,0.02, 0.015,0.012,0.018,0.02,0.015,0.012, 0.01,0.012,0.015,0.01,0.012,0.06, 0.025,0.02,0.02,0.068,0.015,0.012, 0.015,0.01,0.012,0.01,0.012,0.02, 0.05,0.078,0.07,0.04];

const ABS = [
  [A_CycmnAc_news,A_CycmnAc_sec,A_CycmnAc_web],[A_CysePrg_news,A_CysePrg_sec,A_CysePrg_web],
  [A_ElecSe_news,A_ElecSe_sec,A_ElecSe_web],[A_FMClm_news,A_FMClm_sec,A_FMClm_web],
  [A_IdtFncFrd_news,A_IdtFncFrd_sec,A_IdtFncFrd_web],[A_InfPry_news,A_InfPry_sec,A_InfPry_web],
  [A_IoTThr_news,A_IoTThr_sec,A_IoTThr_web],[A_MalVr_news,A_MalVr_sec,A_MalVr_web],
  [A_MbAppSe_news,A_MbAppSe_sec,A_MbAppSe_web],[A_NatSe_news,A_NatSe_sec,A_NatSe_web],
  [A_NetAtk_news,A_NetAtk_sec,A_NetAtk_web],[A_PwdEnc_news,A_PwdEnc_sec,A_PwdEnc_web],
  [A_SeSwServ_news,A_SeSwServ_sec,A_SeSwServ_web],[A_SeUdVnb_news,A_SeUdVnb_sec,A_SeUdVnb_web],
  [A_SpmPh_news,A_SpmPh_sec,A_SpmPh_web],[A_WbAtk_news,A_WbAtk_sec,A_WbAtk_web]];
const REL = [
  [B_CycmnAc_news,B_CycmnAc_sec,B_CycmnAc_web],[B_CysePrg_news,B_CysePrg_sec,B_CysePrg_web],
  [B_ElecSe_news,B_ElecSe_sec,B_ElecSe_web],[B_FMClm_news,B_FMClm_sec,B_FMClm_web],
  [B_IdtFncFrd_news,B_IdtFncFrd_sec,B_IdtFncFrd_web],[B_InfPry_news,B_InfPry_sec,B_InfPry_web],
  [B_IoTThr_news,B_IoTThr_sec,B_IoTThr_web],[B_MalVr_news,B_MalVr_sec,B_MalVr_web],
  [B_MbAppSe_news,B_MbAppSe_sec,B_MbAppSe_web],[B_NatSe_news,B_NatSe_sec,B_NatSe_web],
  [B_NetAtk_news,B_NetAtk_sec,B_NetAtk_web],[B_PwdEnc_news,B_PwdEnc_sec,B_PwdEnc_web],
  [B_SeSwServ_news,B_SeSwServ_sec,B_SeSwServ_web],[B_SeUdVnb_news,B_SeUdVnb_sec,B_SeUdVnb_web],
  [B_SpmPh_news,B_SpmPh_sec,B_SpmPh_web],[B_WbAtk_news,B_WbAtk_sec,B_WbAtk_web]];

// ---------- layout / style ----------
const COLORS = ['#3d95f2','#fa7a1c','#4cdc12'];
const FONT = '"Liberation Serif","Times New Roman",serif';
const XMIN = 2009, XMAX = 2019.58;
const PANEL_LEFT = [75.5, 474], PANEL_W = [352.5, 353.5];
const ROW_TOP = 32.3, ROW_STEP = 40.47, ROW_H = 34.3;
const FRAME = '#333';

const yearVals = YEAR_TICKS.map(Number);
const quarterVals = [];
yearVals.forEach(y => { [0.25,0.5,0.75].forEach(q => { if (y + q < XMAX) quarterVals.push(y + q); }); });
const xOf = i => XMIN + i * 2 / 12;

// 5% autoscale margins on the value axis
function paddedExtent(arrs) {
  let mn = Infinity, mx = -Infinity;
  arrs.forEach(a => a.forEach(v => { if (v < mn) mn = v; if (v > mx) mx = v; }));
  const pad = 0.05 * (mx - mn);
  return [mn - pad, mx + pad];
}

const grids = [], xAxes = [], yAxes = [], series = [], graphics = [], extents = [];
const bad = [];
ROWS.forEach((name, r) => {
  [ABS, REL].forEach((tbl, p) => {
    const g = r * 2 + p;
    const top = ROW_TOP + r * ROW_STEP;
    grids.push({ left: PANEL_LEFT[p], width: PANEL_W[p], top: top, height: ROW_H, show: true,
      borderColor: FRAME, borderWidth: 1.1, backgroundColor: 'rgba(0,0,0,0)', containLabel: false });
    const last = r === ROWS.length - 1;
    xAxes.push({ type: 'value', gridIndex: g, min: XMIN, max: XMAX, position: 'bottom',
      axisLine: { show: false }, splitLine: { show: false },
      axisTick: { show: true, customValues: yearVals, length: 3.5, lineStyle: { color: FRAME, width: 1 } },
      axisLabel: { show: last, customValues: yearVals, margin: 4, color: '#000', fontFamily: FONT,
        fontWeight: 'bold', fontSize: 11.5, hideOverlap: false,
        formatter: v => String(Math.round(v)) } });
    xAxes.push({ type: 'value', gridIndex: g, min: XMIN, max: XMAX, position: 'bottom',
      axisLine: { show: false }, splitLine: { show: false }, axisLabel: { show: false },
      axisTick: { show: true, customValues: quarterVals, length: 2, lineStyle: { color: FRAME, width: 0.8 } } });
    const ticks = (p === 0 ? A_TICKS : B_TICKS)[r];
    const tickVals = ticks.map(parseFloat);
    const ext = paddedExtent(tbl[r]);
    extents.push(ext);
    yAxes.push({ type: 'value', gridIndex: g, min: ext[0], max: ext[1],
      axisLine: { show: false }, splitLine: { show: false },
      axisTick: { show: true, customValues: tickVals, length: 3.5, lineStyle: { color: FRAME, width: 1 } },
      axisLabel: { show: false } });
    tbl[r].forEach((arr, k) => {
      if (arr.length !== 64) bad.push((p ? 'B_' : 'A_') + name + '_' + k + ':' + arr.length);
      series.push({ type: 'line', name: SERIES_NAMES[k], xAxisIndex: g * 2, yAxisIndex: g,
        data: arr.map((v, i) => [xOf(i), v]), symbol: 'none', showSymbol: false, silent: true,
        lineStyle: { color: COLORS[k], width: 1.5 }, itemStyle: { color: COLORS[k] },
        emphasis: { disabled: true }, z: 2 + k });
    });
  });
  graphics.push({ type: 'text', x: 28, y: ROW_TOP + r * ROW_STEP + ROW_H / 2 + 2, z: 100,
    style: { text: name, fill: '#000', font: 'bold 12px ' + FONT, align: 'center', verticalAlign: 'middle',
      textAlign: 'center', textVerticalAlign: 'middle' } });
});
PANEL_TITLES.forEach((t, p) => {
  graphics.push({ type: 'text', x: PANEL_LEFT[p] + PANEL_W[p] / 2, y: 701, z: 100,
    style: { text: t, fill: '#000', font: 'bold 12px ' + FONT, align: 'center', verticalAlign: 'middle',
      textAlign: 'center', textVerticalAlign: 'middle' } });
});
if (bad.length) graphics.push({ type: 'text', x: 5, y: 5, style: { text: bad.join(' '), fill: 'red', font: '10px sans-serif' } });

const chart = echarts.init(document.getElementById('c'), null, { renderer: 'canvas' });
chart.setOption({
  animation: false,
  backgroundColor: '#fff',
  legend: { data: SERIES_NAMES, right: 3, top: 2, orient: 'horizontal', icon: 'rect', itemWidth: 24, itemHeight: 2, itemGap: 19,
    padding: [4, 5], borderColor: '#ccc', borderWidth: 1, borderRadius: 3, backgroundColor: '#fff',
    textStyle: { fontFamily: FONT, fontWeight: 'bold', fontSize: 12, color: '#000', padding: [0, 0, 0, 5] } },
  grid: grids, xAxis: xAxes, yAxis: yAxes, series: series, graphic: graphics
});

// y tick labels as real text next to each axis, positioned by the grid's own value scale
const wrap = document.getElementById('wrap');
ROWS.forEach((name, r) => {
  [0, 1].forEach(p => {
    const g = r * 2 + p;
    const ticks = (p === 0 ? A_TICKS : B_TICKS)[r];
    const ext = extents[g];
    const top = ROW_TOP + r * ROW_STEP;
    ticks.forEach(t => {
      const v = parseFloat(t);
      let py = NaN;
      const pt = chart.convertToPixel({ gridIndex: g }, [XMIN, v]);
      if (pt && isFinite(pt[1]) && pt[1] > top - 3 && pt[1] < top + ROW_H + 3) py = pt[1];
      if (!isFinite(py)) py = top + ROW_H * (ext[1] - v) / (ext[1] - ext[0]);
      const d = document.createElement('div');
      d.className = 'yt';
      d.textContent = t;
      d.style.right = (830 - (PANEL_LEFT[p] - 5.5)) + 'px';
      d.style.top = (py - 7) + 'px';
      wrap.appendChild(d);
    });
  });
});
</script></body></html>
